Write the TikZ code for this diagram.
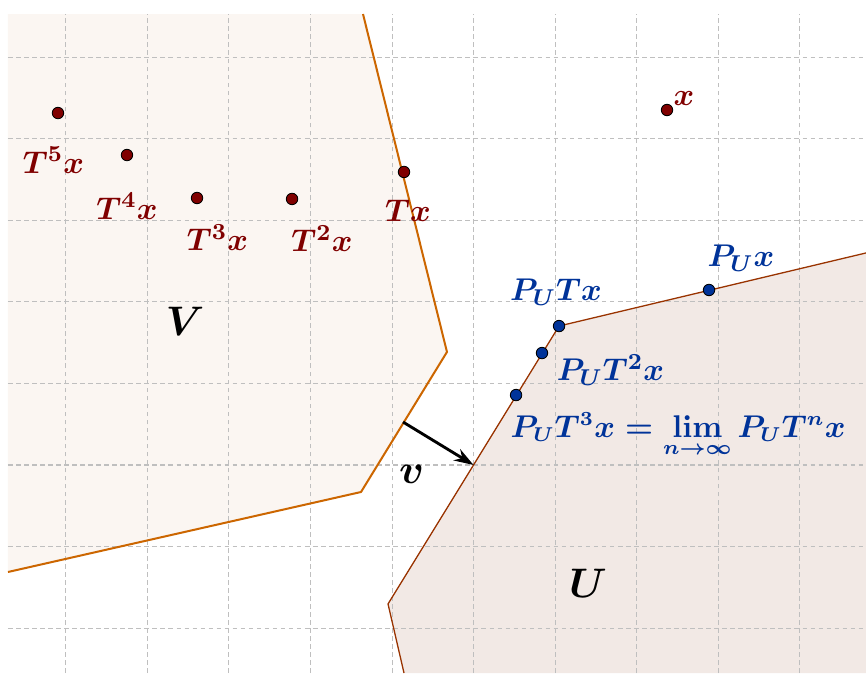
\documentclass[tikz,border=0pt]{standalone}
\usepackage{xcolor}
\usepackage{tikz}
\usetikzlibrary{positioning, arrows.meta}

\definecolor{ptred}{HTML}{800000}
\definecolor{ptblue}{HTML}{003399}
\definecolor{vfill}{HTML}{FBF6F2}
\definecolor{vline}{HTML}{CC6600}
\definecolor{ufill}{HTML}{F2E9E5}
\definecolor{uline}{HTML}{993300}

\begin{document}
\begin{tikzpicture}[
      x=1cm, y=1cm,
      gridline/.style={gray!50, dash pattern=on 1.6pt off 1.2pt, line width=0.35pt},
      dot/.style={circle, draw=black, line width=0.3pt, inner sep=0pt, minimum size=4pt},
      reddot/.style={dot, fill=ptred},
      bluedot/.style={dot, fill=ptblue},
      lab/.style={inner sep=0pt, anchor=base, font=\fontsize{11}{13}\selectfont\boldmath},
      redlab/.style={lab, text=ptred},
      bluelab/.style={lab, text=ptblue},
      setlab/.style={lab, font=\fontsize{15}{18}\selectfont\boldmath},
      arr/.style={-{Stealth[length=2.4mm, width=1.6mm]}, line width=1pt}
    ]
    \useasboundingbox (-4.807,-2.551) rectangle (5.812,5.702);

    % the two sets
    \fill[vfill] (-0.356,5.530) -- (0.674,1.386) -- (-0.380,-0.331) -- (-4.709,-1.312) -- (-4.709,5.530) -- cycle;
    \fill[ufill] (5.812,2.600) -- (2.048,1.704) -- (-0.049,-1.704) -- (0.147,-2.551) -- (5.812,-2.551) -- cycle;

    % grid
    \foreach \i in {-4,...,5}
      \draw[gridline] (\i,-2.551) -- (\i,5.530);
    \foreach \j in {-2,...,5}
      \draw[gridline] (-4.709,\j) -- (5.812,\j);

    \draw[vline, line width=0.7pt] (-0.356,5.530) -- (0.674,1.386) -- (-0.380,-0.331) -- (-4.709,-1.312);
    \draw[uline, line width=0.45pt] (5.812,2.600) -- (2.048,1.704) -- (-0.049,-1.704) -- (0.147,-2.551);

    % orbit of x
    \node[reddot] (x) at (3.372,4.353) {};
    \node[reddot] (tx) at (0.147,3.593) {};
    \node[reddot] (t2x) at (-1.226,3.262) {};
    \node[reddot] (t3x) at (-2.391,3.274) {};
    \node[reddot] (t4x) at (-3.250,3.801) {};
    \node[reddot] (t5x) at (-4.096,4.316) {};

    \node[redlab] (xlab) at (3.581,4.414) {$x$};
    \node[redlab] (txlab) at (0.196,2.984) {$Tx$};
    \node[redlab] (t2xlab) at (-0.858,2.616) {$T^2x$};
    \node[redlab] (t3xlab) at (-2.140,2.628) {$T^3x$};
    \node[redlab] (t4xlab) at (-3.250,3.013) {$T^4x$};
    \node[redlab] (t5xlab) at (-4.151,3.577) {$T^5x$};

    % projections onto U
    \node[bluedot] (pux) at (3.887,2.146) {};
    \node[bluedot] (putx) at (2.048,1.704) {};
    \node[bluedot] (put2x) at (1.839,1.373) {};
    \node[bluedot] (put3x) at (1.521,0.858) {};

    \node[bluelab] (puxlab) at (4.280,2.428) {$P_Ux$};
    \node[bluelab] (putxlab) at (2.011,2.015) {$P_UTx$};
    \node[bluelab] (put2xlab) at (2.679,1.034) {$P_UT^2x$};
    \node[bluelab, anchor=base west, font=\fontsize{10.6}{13}\selectfont\boldmath] (put3xlab) at (1.447,0.343) {$P_UT^3x=\lim\limits_{n\to\infty}P_UT^nx$};

    % sets and gap vector
    \node[setlab] (vlab) at (-2.538,1.594) {$V$};
    \node[setlab] (ulab) at (2.403,-1.619) {$U$};
    \node[setlab] (gaplab) at (0.239,-0.221) {$v$};

    \coordinate (gapstart) at (0.135,0.527);
    \coordinate (gapend) at (1.0,0);
    \draw[arr] (gapstart) -- (gapend);
  \end{tikzpicture}
\end{document}
